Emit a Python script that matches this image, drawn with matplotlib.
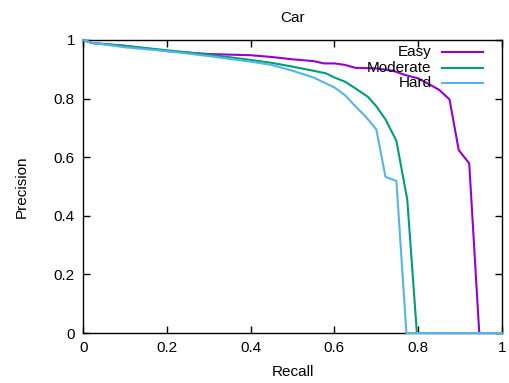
import matplotlib
matplotlib.use("Agg")
import matplotlib.pyplot as plt

plt.rcParams['font.family'] = ['Liberation Sans', 'DejaVu Sans']

# Precision / recall curves
easy_recall = [0.0, 0.022, 0.1, 0.2, 0.3, 0.4, 0.45, 0.5, 0.55, 0.575, 0.6, 0.625, 0.65,
               0.7, 0.74, 0.77, 0.8, 0.83, 0.85, 0.875, 0.897, 0.922, 0.946, 1.0]
easy_precision = [1.0, 0.989, 0.98, 0.962, 0.952, 0.948, 0.942, 0.934, 0.928, 0.92, 0.92, 0.915, 0.905,
                  0.903, 0.895, 0.88, 0.869, 0.846, 0.83, 0.797, 0.624, 0.579, 0.0, 0.0]

mod_recall = [0.0, 0.022, 0.1, 0.2, 0.3, 0.4, 0.45, 0.5, 0.55, 0.58, 0.6, 0.625, 0.65,
              0.68, 0.7, 0.722, 0.748, 0.774, 0.797, 1.0]
mod_precision = [1.0, 0.99, 0.98, 0.965, 0.95, 0.932, 0.922, 0.909, 0.895, 0.886, 0.872, 0.858, 0.835,
                 0.806, 0.774, 0.729, 0.656, 0.456, 0.0, 0.0]

hard_recall = [0.0, 0.022, 0.1, 0.2, 0.3, 0.4, 0.45, 0.5, 0.55, 0.6, 0.625, 0.65,
               0.675, 0.7, 0.722, 0.748, 0.772, 1.0]
hard_precision = [1.0, 0.99, 0.975, 0.962, 0.945, 0.926, 0.915, 0.895, 0.872, 0.838, 0.812, 0.774,
                  0.738, 0.695, 0.533, 0.519, 0.0, 0.0]

labels = ["Easy", "Moderate", "Hard"]
colors = ["#9400d3", "#009e73", "#56b4e9"]
ticks = [0, 0.2, 0.4, 0.6, 0.8, 1]
tick_labels = ["0", "0.2", "0.4", "0.6", "0.8", "1"]

fig = plt.figure(figsize=(5.09, 3.83), dpi=100)
ax = fig.add_axes([0.1635, 0.1305, 0.8225, 0.7651])

curves = [(easy_recall, easy_precision), (mod_recall, mod_precision), (hard_recall, hard_precision)]
for (r, p), c in zip(curves, colors):
    ax.plot(r, p, color=c, lw=1.5, clip_on=False, zorder=3)

ax.set_xlim(0, 1)
ax.set_ylim(0, 1)
ax.set_xticks(ticks)
ax.set_xticklabels(tick_labels)
ax.set_yticks(ticks)
ax.set_yticklabels(tick_labels)
ax.tick_params(direction='in', length=5, width=1, top=True, right=True, labelsize=11, pad=6)
for s in ax.spines.values():
    s.set_linewidth(1)

ax.set_xlabel("Recall", fontsize=11, labelpad=7)
ax.set_ylabel("Precision", fontsize=11, labelpad=18)
ax.set_title("Car", fontsize=11, pad=13)

# gnuplot-style key: right-aligned text followed by line sample
key_y = [0.959, 0.904, 0.853]
for lab, c, y in zip(labels, colors, key_y):
    ax.text(0.832, y, lab, ha='right', va='center', fontsize=11, transform=ax.transAxes, zorder=4)
    ax.plot([0.858, 0.954], [y, y], color=c, lw=1.5, transform=ax.transAxes, zorder=4)

fig.savefig("out.png", dpi=100)
